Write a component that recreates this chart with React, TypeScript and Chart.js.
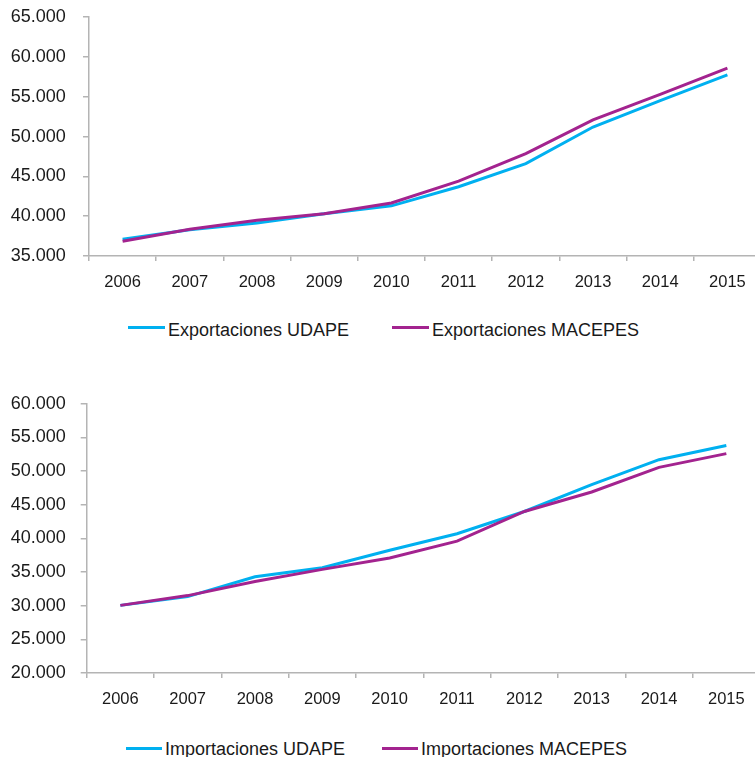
import React, { useEffect, useRef } from "react";
import { Chart, registerables } from "chart.js";

Chart.register(...registerables);

const years = ["2006", "2007", "2008", "2009", "2010", "2011", "2012", "2013", "2014", "2015"];

const exportUdape = [37100, 38300, 39150, 40300, 41300, 43700, 46600, 51200, 54500, 57750];
const exportMacepes = [36850, 38350, 39500, 40300, 41650, 44400, 47850, 52100, 55300, 58600];

const importUdape = [30050, 31350, 34300, 35650, 38250, 40700, 44000, 48000, 51700, 53800];
const importMacepes = [30050, 31500, 33600, 35400, 37100, 39600, 44000, 46900, 50550, 52600];

const topLegend = ["Exportaciones UDAPE", "Exportaciones MACEPES"];
const bottomLegend = ["Importaciones UDAPE", "Importaciones MACEPES"];

const CYAN = "#00B0F0";
const MAGENTA = "#A3238F";
const AXIS = "#b4b4b4";
const TEXT = "#1a1a1a";
const FONT = "'Liberation Sans', Arial, sans-serif";

type ChartProps = {
  top: number;
  width: number;
  height: number;
  yWidth: number;
  yPad: number;
  yMin: number;
  yMax: number;
  a: number[];
  b: number[];
  labels: string[];
};

function LineChart(p: ChartProps) {
  const ref = useRef<HTMLCanvasElement | null>(null);
  useEffect(() => {
    if (!ref.current) return;
    const chart = new Chart(ref.current, {
      type: "line",
      data: {
        labels: years,
        datasets: [
          {
            label: p.labels[0],
            data: p.a,
            borderColor: CYAN,
            backgroundColor: CYAN,
            borderWidth: 3,
            pointRadius: 0,
            tension: 0,
            order: 1,
          },
          {
            label: p.labels[1],
            data: p.b,
            borderColor: MAGENTA,
            backgroundColor: MAGENTA,
            borderWidth: 3,
            pointRadius: 0,
            tension: 0,
            order: 0,
          },
        ],
      },
      options: {
        responsive: false,
        animation: false,
        devicePixelRatio: 1,
        layout: { padding: 0 },
        plugins: { legend: { display: false }, tooltip: { enabled: false } },
        scales: {
          x: {
            type: "category",
            offset: true,
            grid: {
              offset: true,
              drawOnChartArea: false,
              drawTicks: true,
              tickLength: 5,
              color: AXIS,
              lineWidth: 1.5,
            },
            border: { color: AXIS, width: 1.5 },
            ticks: {
              color: TEXT,
              font: { family: FONT, size: 16.5 },
              padding: 11.5,
              maxRotation: 0,
              autoSkip: false,
            },
            afterFit: (s: any) => {
              s.height = 40;
            },
          },
          y: {
            min: p.yMin,
            max: p.yMax,
            grid: {
              drawOnChartArea: false,
              drawTicks: true,
              tickLength: 6,
              color: AXIS,
              lineWidth: 1.5,
            },
            border: { color: AXIS, width: 1.5 },
            ticks: {
              stepSize: 5000,
              color: TEXT,
              font: { family: FONT, size: 18 },
              padding: p.yPad,
              callback: (v: any) => (Number(v) / 1000).toFixed(3),
            },
            afterFit: (s: any) => {
              s.width = p.yWidth;
            },
          },
        },
      },
    });
    return () => chart.destroy();
  }, []);
  return (
    <canvas
      ref={ref}
      width={p.width}
      height={p.height}
      style={{ position: "absolute", left: 0, top: p.top, width: p.width, height: p.height }}
    />
  );
}

function LegendItem(props: { x: number; lineY: number; textX: number; textTop: number; color: string; text: string }) {
  return (
    <>
      <div
        style={{
          position: "absolute",
          left: props.x,
          top: props.lineY - 1.5,
          width: props.textX - props.x - 3,
          height: 3,
          background: props.color,
        }}
      />
      <div
        style={{
          position: "absolute",
          left: props.textX,
          top: props.textTop,
          fontFamily: FONT,
          fontSize: 18,
          lineHeight: "20px",
          color: TEXT,
          whiteSpace: "nowrap",
        }}
      >
        {props.text}
      </div>
    </>
  );
}

export default function App() {
  return (
    <div
      style={{
        position: "absolute",
        left: 0,
        top: 0,
        width: 755,
        height: 757,
        overflow: "hidden",
        background: "#ffffff",
      }}
    >
      <LineChart
        top={-11.4}
        width={761}
        height={307}
        yWidth={89}
        yPad={17.3}
        yMin={35000}
        yMax={65000}
        a={exportUdape}
        b={exportMacepes}
        labels={topLegend}
      />
      <LegendItem x={128} lineY={327.3} textX={168} textTop={319.8} color={CYAN} text={topLegend[0]} />
      <LegendItem x={392} lineY={327.3} textX={432} textTop={319.8} color={MAGENTA} text={topLegend[1]} />
      <LineChart
        top={378.2}
        width={760}
        height={335}
        yWidth={86.7}
        yPad={15}
        yMin={20000}
        yMax={60000}
        a={importUdape}
        b={importMacepes}
        labels={bottomLegend}
      />
      <LegendItem x={126} lineY={748} textX={165} textTop={738.5} color={CYAN} text={bottomLegend[0]} />
      <LegendItem x={382} lineY={748} textX={421} textTop={738.5} color={MAGENTA} text={bottomLegend[1]} />
    </div>
  );
}
